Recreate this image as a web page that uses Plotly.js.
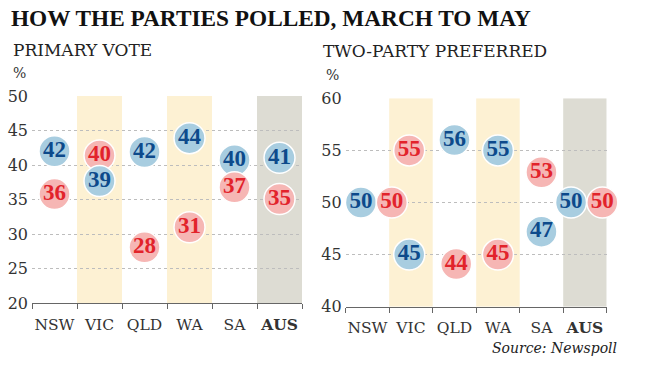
<!DOCTYPE html>
<html>
<head>
<meta charset="utf-8">
<script src="https://cdn.plot.ly/plotly-3.0.1.min.js"></script>
<style>html,body{margin:0;padding:0;background:#fff;}#chart{width:650px;height:366px;}</style>
</head>
<body>
<div id="chart"></div>
<script>
// ---- data ----
var categories = ['NSW', 'VIC', 'QLD', 'WA', 'SA', 'AUS'];
var categoryLabels = ['NSW', 'VIC', 'QLD', 'WA', 'SA', '<b>AUS</b>'];

// Primary vote (%): labels and plotted heights
var primaryCoalition = [42, 39, 42, 44, 40, 41];
var primaryCoalitionY = [42, 37.7, 41.9, 43.9, 40.7, 41.05];
var primaryLabor = [36, 40, 28, 31, 37, 35];
var primaryLaborY = [35.8, 41.4, 28.1, 31, 36.8, 35.1];
var primaryTop = ['lab', 'coa', 'lab', 'lab', 'lab', 'lab'];

// Two-party preferred (%)
var tppCoalition = [50, 45, 56, 55, 47, 50];
var tppCoalitionY = [50, 45, 56, 55, 47.2, 50];
var tppLabor = [50, 55, 44, 45, 53, 50];
var tppLaborY = [50, 55, 44.1, 45, 52.9, 50];
var tppCoalitionShift = [-0.15, -0.04, 0, 0, 0, -0.32];
var tppLaborShift = [0.56, -0.04, 0.04, 0, 0, 0.40];
var tppTop = ['lab', 'lab', 'lab', 'lab', 'lab', 'lab'];

var primaryTicks = [20, 25, 30, 35, 40, 45, 50];
var tppTicks = [40, 45, 50, 55, 60];
var highlighted = {VIC: '#fdf1d3', WA: '#fdf1d3', AUS: '#dddcd3'};

// ---- styles ----
var BLUE_FILL = '#a8cde0', BLUE_TEXT = '#0d4a8b';
var RED_FILL = '#f6b6b4', RED_TEXT = '#e2232b';
var SERIF_B = '"Liberation Serif", serif';
var SERIF = 'DejaVu Serif';

function buildTrace(coaVals, coaY, coaShift, labVals, labY, labShift, top, xa, ya) {
  var xs = [], ys = [], txt = [], fill = [], tcol = [];
  function push(party, i) {
    if (party === 'coa') {
      xs.push(i + (coaShift ? coaShift[i] : 0)); ys.push(coaY[i]); txt.push('<b>' + coaVals[i] + '</b>');
      fill.push(BLUE_FILL); tcol.push(BLUE_TEXT);
    } else {
      xs.push(i + (labShift ? labShift[i] : 0)); ys.push(labY[i]); txt.push('<b>' + labVals[i] + '</b>');
      fill.push(RED_FILL); tcol.push(RED_TEXT);
    }
  }
  for (var i = 0; i < categories.length; i++) {
    if (top[i] === 'lab') { push('coa', i); push('lab', i); }
    else { push('lab', i); push('coa', i); }
  }
  return {
    type: 'scatter', mode: 'markers+text', x: xs, y: ys, text: txt,
    textposition: 'middle center', xaxis: xa, yaxis: ya, hoverinfo: 'skip', cliponaxis: false,
    marker: {size: 31, color: fill, line: {color: '#ffffff', width: 1.5}, opacity: 1},
    textfont: {family: SERIF_B, size: 23, color: tcol}
  };
}

var traces = [
  buildTrace(primaryCoalition, primaryCoalitionY, null, primaryLabor, primaryLaborY, null, primaryTop, 'x', 'y'),
  buildTrace(tppCoalition, tppCoalitionY, tppCoalitionShift, tppLabor, tppLaborY, tppLaborShift, tppTop, 'x2', 'y2')
];

var shapes = [];
categories.forEach(function (c, i) {
  if (highlighted[c]) {
    shapes.push({type: 'rect', xref: 'x', yref: 'y', x0: i - 0.5, x1: i + 0.5, y0: 20, y1: 50,
      fillcolor: highlighted[c], line: {width: 0}, layer: 'below'});
    shapes.push({type: 'rect', xref: 'x2', yref: 'y2', x0: i - 0.5, x1: i + 0.5, y0: 40, y1: 60,
      fillcolor: highlighted[c], line: {width: 0}, layer: 'below'});
  }
});

function xAxis(domain, anchor) {
  return {
    domain: domain, anchor: anchor, range: [-0.5, 5.5], fixedrange: true,
    tickmode: 'array', tickvals: categories.map(function (c, i) { return i; }), ticktext: categoryLabels,
    ticks: '', showgrid: false, zeroline: false, showline: true, linecolor: '#666', linewidth: 1,
    tickfont: {family: SERIF, size: 15.5, color: '#333'}, ticklabelstandoff: 7,
    minor: {tickmode: 'linear', tick0: -0.5, dtick: 1, ticks: 'outside', ticklen: 5, tickcolor: '#666', tickwidth: 1, showgrid: false}
  };
}
function yAxis(domain, anchor, rng, ticks) {
  return {
    domain: domain, anchor: anchor, range: rng, fixedrange: true,
    tickmode: 'array', tickvals: ticks, ticks: '', showline: false, zeroline: false,
    showgrid: true, gridcolor: '#bdbdbd', gridwidth: 1, griddash: 'dot',
    tickfont: {family: SERIF, size: 16, color: '#333'}, ticklabelstandoff: 3
  };
}

function px(x) { return x / 650; }
function py(y) { return 1 - y / 366; }

var annotations = [
  {text: '<b>HOW THE PARTIES POLLED, MARCH TO MAY</b>', x: px(9), y: py(18), xanchor: 'left', yanchor: 'middle',
    font: {family: SERIF_B, size: 23.3, color: '#111'}},
  {text: 'PRIMARY VOTE', x: px(11), y: py(50), xanchor: 'left', yanchor: 'middle',
    font: {family: SERIF, size: 17, color: '#222'}},
  {text: '%', x: px(11), y: py(73), xanchor: 'left', yanchor: 'middle',
    font: {family: SERIF, size: 14, color: '#333'}},
  {text: 'TWO-PARTY PREFERRED', x: px(321), y: py(51), xanchor: 'left', yanchor: 'middle',
    font: {family: SERIF, size: 17, color: '#222'}},
  {text: '%', x: px(324), y: py(75.5), xanchor: 'left', yanchor: 'middle',
    font: {family: SERIF, size: 14, color: '#333'}},
  {text: '<i>Source: Newspoll</i>', x: px(619), y: py(348), xanchor: 'right', yanchor: 'middle',
    font: {family: SERIF, size: 14, color: '#222'}}
];
annotations.forEach(function (a) { a.xref = 'paper'; a.yref = 'paper'; a.showarrow = false; });

var layout = {
  width: 650, height: 366, margin: {l: 0, r: 0, t: 0, b: 0},
  font: {family: SERIF},
  paper_bgcolor: '#ffffff', plot_bgcolor: 'rgba(0,0,0,0)', showlegend: false,
  xaxis: xAxis([px(32), px(302)], 'y'),
  yaxis: yAxis([py(303.3), py(96)], 'x', [20, 50], primaryTicks),
  xaxis2: xAxis([px(345.7), px(606.7)], 'y2'),
  yaxis2: yAxis([py(306.7), py(98.3)], 'x2', [40, 60], tppTicks),
  shapes: shapes, annotations: annotations
};

Plotly.newPlot('chart', traces, layout, {staticPlot: true, displayModeBar: false});
</script>
</body>
</html>
